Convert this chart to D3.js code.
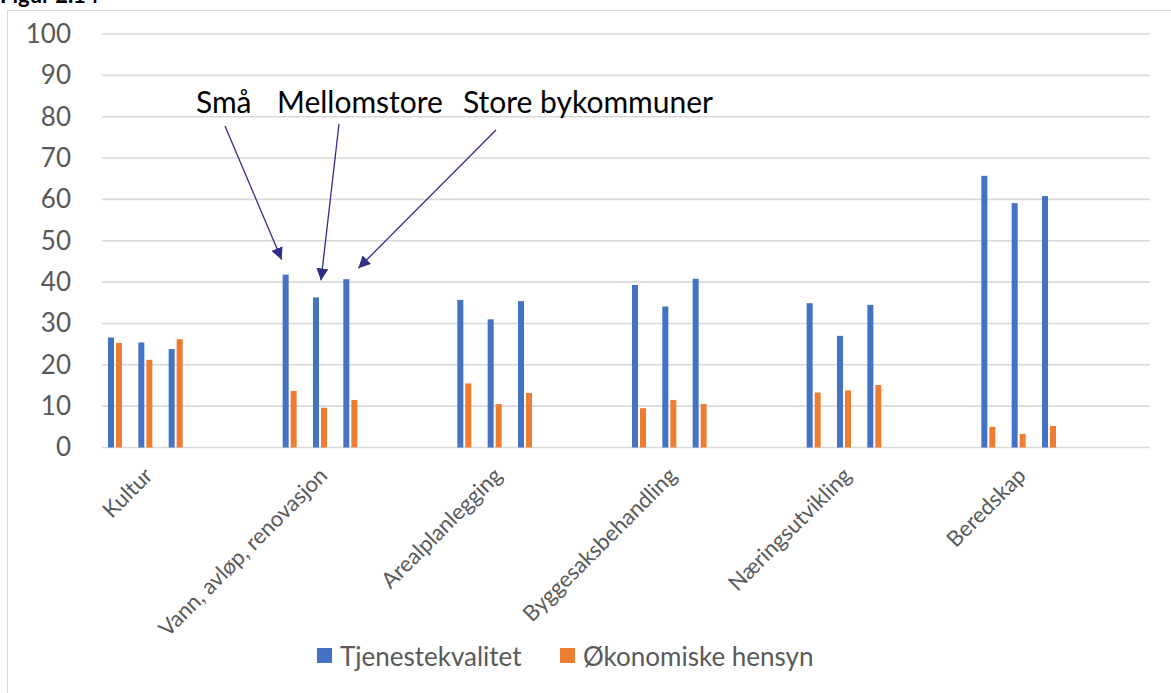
<!DOCTYPE html>
<html>
<head>
<meta charset="utf-8">
<script src="https://cdn.jsdelivr.net/npm/d3@7"></script>
<style>
  body { margin: 0; background: #fff; }
  text { font-family: Lato, "Open Sans", sans-serif; }
</style>
</head>
<body>
<div class="chart"></div>
<script>
var svgWidth = 1171;
var svgHeight = 693;

// data
var categories = ["Kultur", "Vann, avløp, renovasjon", "Arealplanlegging",
  "Byggesaksbehandling", "Næringsutvikling", "Beredskap"];
var sizes = ["Små", "Mellomstore", "Store bykommuner"];

var tjenesteSmaa   = [26.6, 41.8, 35.7, 39.3, 34.9, 65.7];
var tjenesteMellom = [25.4, 36.3, 31.0, 34.1, 27.0, 59.1];
var tjenesteStore  = [23.8, 40.7, 35.4, 40.8, 34.5, 60.8];

var okonomiSmaa   = [25.3, 13.7, 15.5, 9.5, 13.3, 5.0];
var okonomiMellom = [21.2, 9.6, 10.5, 11.5, 13.8, 3.3];
var okonomiStore  = [26.2, 11.5, 13.2, 10.5, 15.1, 5.2];

var yTicks = [0, 10, 20, 30, 40, 50, 60, 70, 80, 90, 100];
var seriesNames = ["Tjenestekvalitet", "Økonomiske hensyn"];
var colors = ["#4472C4", "#ED7D31"];

var tjeneste = [tjenesteSmaa, tjenesteMellom, tjenesteStore];
var okonomi = [okonomiSmaa, okonomiMellom, okonomiStore];

var svg = d3.select(".chart")
  .append("svg")
  .attr("width", svgWidth)
  .attr("height", svgHeight);

// figure caption, cut off at the top as in the source
svg.append("text")
  .attr("x", 0)
  .attr("y", 3)
  .attr("font-size", 22)
  .attr("font-weight", "bold")
  .attr("fill", "#000")
  .text("Figur 2.14");

// chart area border
svg.append("rect")
  .attr("x", 7.5)
  .attr("y", 10.5)
  .attr("width", 1200)
  .attr("height", 800)
  .attr("fill", "none")
  .attr("stroke", "#D9D9D9")
  .attr("stroke-width", 1);

var x0 = d3.scaleBand().domain(categories).range([102, 1150]);
var xSize = d3.scaleBand().domain(sizes).range([6, 97]);
var xMeasure = d3.scaleBand().domain(seriesNames).range([0, 16]);
var barW = 6;

var y = d3.scaleLinear().domain([0, 100]).range([447.5, 34]);

// gridlines
svg.append("g")
  .selectAll("line")
  .data(yTicks)
  .enter()
  .append("line")
  .attr("x1", 102)
  .attr("x2", 1150)
  .attr("y1", function(d) { return y(d); })
  .attr("y2", function(d) { return y(d); })
  .attr("stroke", "#D9D9D9")
  .attr("stroke-width", 1.6);

var leftAxis = d3.axisLeft(y).tickValues(yTicks).tickSize(0).tickPadding(0);
var yAxis = svg.append("g")
  .attr("transform", "translate(71,0)")
  .call(leftAxis);
yAxis.select(".domain").remove();
yAxis.selectAll("text")
  .attr("font-size", 26)
  .attr("font-family", "Lato, sans-serif")
  .attr("fill", "#595959");

// bars
var rows = [];
categories.forEach(function(c, i) {
  sizes.forEach(function(s, j) {
    rows.push({ cat: c, size: s, series: seriesNames[0], value: tjeneste[j][i] });
    rows.push({ cat: c, size: s, series: seriesNames[1], value: okonomi[j][i] });
  });
});

svg.append("g")
  .selectAll("rect")
  .data(rows)
  .enter()
  .append("rect")
  .attr("x", function(d) { return x0(d.cat) + xSize(d.size) + xMeasure(d.series); })
  .attr("y", function(d) { return y(d.value); })
  .attr("width", barW)
  .attr("height", function(d) { return y(0) - y(d.value); })
  .attr("fill", function(d) { return colors[seriesNames.indexOf(d.series)]; });

// category labels
svg.append("g")
  .selectAll("text")
  .data(categories)
  .enter()
  .append("text")
  .attr("transform", function(d) {
    return "translate(" + (x0(d) + 52) + ",477) rotate(-45)";
  })
  .attr("text-anchor", "end")
  .attr("font-size", 22)
  .attr("fill", "#595959")
  .text(function(d) { return d; });

// annotations
var annoX = [196, 277, 463];
svg.append("g")
  .selectAll("text")
  .data(sizes)
  .enter()
  .append("text")
  .attr("x", function(d, i) { return annoX[i]; })
  .attr("y", 113)
  .attr("font-size", 30)
  .attr("fill", "#000")
  .text(function(d) { return d; });

svg.append("defs").append("marker")
  .attr("id", "head")
  .attr("viewBox", "0 0 10 10")
  .attr("refX", 10)
  .attr("refY", 5)
  .attr("markerWidth", 12)
  .attr("markerHeight", 12)
  .attr("markerUnits", "userSpaceOnUse")
  .attr("orient", "auto")
  .append("path")
  .attr("d", "M0,0 L10,5 L0,10 z")
  .attr("fill", "#312E8A");

var vann = categories[1];
var arrows = [
  { x1: 225, y1: 126, x2: x0(vann) + xSize(sizes[0]) - 1, y2: y(tjenesteSmaa[1]) - 15 },
  { x1: 339, y1: 124, x2: x0(vann) + xSize(sizes[1]) + 8, y2: y(tjenesteMellom[1]) - 17 },
  { x1: 496, y1: 130, x2: x0(vann) + xSize(sizes[2]) + 15, y2: y(tjenesteStore[1]) - 11 }
];

svg.append("g")
  .selectAll("line")
  .data(arrows)
  .enter()
  .append("line")
  .attr("x1", function(d) { return d.x1; })
  .attr("y1", function(d) { return d.y1; })
  .attr("x2", function(d) { return d.x2; })
  .attr("y2", function(d) { return d.y2; })
  .attr("stroke", "#312E8A")
  .attr("stroke-width", 1.3)
  .attr("marker-end", "url(#head)");

// legend
var legendX = [317, 560];
var legend = svg.append("g")
  .selectAll("g")
  .data(seriesNames)
  .enter()
  .append("g")
  .attr("transform", function(d, i) { return "translate(" + legendX[i] + ",648)"; });

legend.append("rect")
  .attr("width", 15)
  .attr("height", 15)
  .attr("fill", function(d, i) { return colors[i]; });

legend.append("text")
  .attr("x", 23)
  .attr("y", 18)
  .attr("font-size", 26)
  .attr("fill", "#595959")
  .text(function(d) { return d; });
</script>
</body>
</html>
